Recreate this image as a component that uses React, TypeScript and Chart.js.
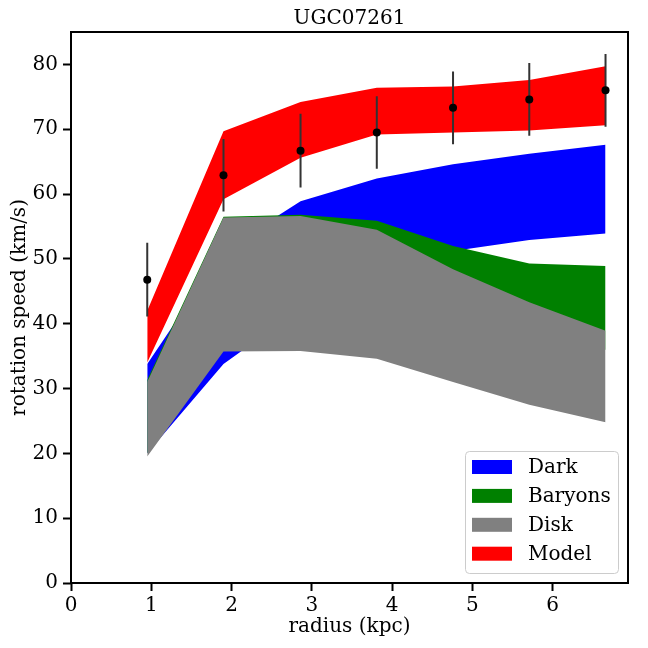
import React, { useEffect, useRef } from "react";
import { Chart, registerables } from "chart.js";

Chart.register(...registerables);

const FONT = "'DejaVu Serif', serif";

// Observed rotation curve
const radius = [0.95, 1.9, 2.86, 3.81, 4.76, 5.71, 6.66];
const vObs = [46.8, 62.9, 66.7, 69.5, 73.3, 74.6, 76.0];
const vErr = [5.7, 5.6, 5.7, 5.6, 5.6, 5.6, 5.6];

// Bands (lower / upper)
const modelLo = [34.0, 59.2, 65.6, 69.2, 69.5, 69.8, 70.6];
const modelHi = [42.0, 69.7, 74.2, 76.4, 76.6, 77.6, 79.7];
const diskLo = [19.5, 35.7, 35.8, 34.6, 31.0, 27.5, 24.8];
const diskHi = [31.0, 56.4, 56.6, 54.5, 48.4, 43.3, 38.9];
const baryonLo = [20.0, 36.0, 37.0, 37.0, 36.5, 36.0, 36.0];
const baryonHi = [31.3, 56.5, 56.8, 55.9, 52.0, 49.3, 48.9];
const darkLo = [20.0, 33.8, 42.3, 47.5, 51.2, 52.9, 53.9];
const darkHi = [33.8, 51.3, 58.9, 62.4, 64.6, 66.2, 67.6];

const legendLabels = ["Dark", "Baryons", "Disk", "Model"];
const legendColors = ["#0000ff", "#008000", "#808080", "#ff0000"];

const xTickValues = [0, 1, 2, 3, 4, 5, 6];
const yTickValues = [0, 10, 20, 30, 40, 50, 60, 70, 80];

const toXY = (ys: (number | null)[]) => ys.map((y, i) => ({ x: radius[i], y }));

const errData: { x: number; y: number | null }[] = [];
radius.forEach((r, i) => {
  errData.push({ x: r, y: vObs[i] - vErr[i] });
  errData.push({ x: r, y: vObs[i] + vErr[i] });
  errData.push({ x: r, y: null });
});

const edge = (data: any, fill: any, color: string) => ({
  data,
  fill,
  backgroundColor: color,
  borderColor: "rgba(0,0,0,0)",
  borderWidth: 1,
  pointRadius: 0,
  pointHoverRadius: 0,
});

const frameAndLegend = {
  id: "frameAndLegend",
  afterDatasetsDraw(chart: any) {
    const { ctx, chartArea } = chart;
    ctx.save();
    ctx.strokeStyle = "#000";
    ctx.lineWidth = 2;
    ctx.strokeRect(chartArea.left, chartArea.top, chartArea.right - chartArea.left, chartArea.bottom - chartArea.top);
    ctx.restore();
  },
  afterDraw(chart: any) {
    const { ctx, chartArea } = chart;
    const w = 153;
    const h = 122;
    const bx = chartArea.right - 10 - w;
    const by = chartArea.bottom - 10 - h;
    ctx.save();
    ctx.beginPath();
    ctx.roundRect(bx + 0.5, by + 0.5, w, h, 4);
    ctx.fillStyle = "rgba(255,255,255,0.8)";
    ctx.fill();
    ctx.strokeStyle = "#cccccc";
    ctx.lineWidth = 1;
    ctx.stroke();
    ctx.font = `20px ${FONT}`;
    ctx.textBaseline = "middle";
    ctx.textAlign = "left";
    legendLabels.forEach((lab, i) => {
      const cy = by + 16 + i * 28.9;
      ctx.fillStyle = legendColors[i];
      ctx.fillRect(bx + 7, cy - 7, 40, 14);
      ctx.fillStyle = "#000";
      ctx.fillText(lab, bx + 63, cy + 1);
    });
    ctx.restore();
  },
};

export default function App() {
  const ref = useRef<HTMLCanvasElement | null>(null);
  useEffect(() => {
    if (!ref.current) return;
    const chart = new Chart(ref.current, {
      type: "line",
      data: {
        datasets: [
          {
            data: toXY(vObs),
            showLine: false,
            pointRadius: 4,
            pointBackgroundColor: "#000",
            pointBorderWidth: 0,
            borderColor: "#000",
            fill: false,
          } as any,
          {
            data: errData,
            borderColor: "#333333",
            borderWidth: 2,
            pointRadius: 0,
            fill: false,
            spanGaps: false,
          } as any,
          edge(toXY(modelLo), false, legendColors[3]),
          edge(toXY(modelHi), 2, legendColors[3]),
          edge(toXY(diskLo), false, legendColors[2]),
          edge(toXY(diskHi), 4, legendColors[2]),
          edge(toXY(baryonLo), false, legendColors[1]),
          edge(toXY(baryonHi), 6, legendColors[1]),
          edge(toXY(darkLo), false, legendColors[0]),
          edge(toXY(darkHi), 8, legendColors[0]),
        ],
      },
      options: {
        animation: false,
        responsive: true,
        maintainAspectRatio: false,
        layout: { padding: { left: 0, right: 20, top: 0, bottom: 0 } },
        plugins: {
          legend: { display: false },
          tooltip: { enabled: false },
          title: {
            display: true,
            fullSize: false,
            text: "UGC07261",
            color: "#000",
            font: { family: FONT, size: 20, weight: "normal", lineHeight: 1.2 },
            padding: { top: 7, bottom: 1 },
          },
        },
        scales: {
          x: {
            type: "linear",
            min: 0,
            max: 6.94,
            afterFit: (s: any) => {
              s.height = 65;
            },
            afterBuildTicks: (s: any) => {
              s.ticks = xTickValues.map((v) => ({ value: v }));
            },
            ticks: {
              stepSize: 1,
              includeBounds: false,
              color: "#000",
              padding: 3,
              font: { family: FONT, size: 20 },
            },
            grid: {
              drawOnChartArea: false,
              drawTicks: true,
              tickLength: 8,
              tickWidth: 2,
              tickColor: "#000",
            },
            border: { display: false },
            title: {
              display: true,
              text: "radius (kpc)",
              color: "#000",
              font: { family: FONT, size: 20, lineHeight: 1.2 },
              padding: { top: 0, bottom: 9 },
            },
          },
          y: {
            type: "linear",
            min: 0,
            max: 85,
            afterFit: (s: any) => {
              s.width = 71;
            },
            afterBuildTicks: (s: any) => {
              s.ticks = yTickValues.map((v) => ({ value: v }));
            },
            ticks: {
              stepSize: 10,
              includeBounds: false,
              color: "#000",
              padding: 5,
              font: { family: FONT, size: 20 },
            },
            grid: {
              drawOnChartArea: false,
              drawTicks: true,
              tickLength: 8,
              tickWidth: 2,
              tickColor: "#000",
            },
            border: { display: false },
            title: {
              display: true,
              text: "rotation speed (km/s)",
              color: "#000",
              font: { family: FONT, size: 20, lineHeight: 1.2 },
              padding: { top: 8, bottom: 0 },
            },
          },
        },
      } as any,
      plugins: [frameAndLegend],
    });
    return () => chart.destroy();
  }, []);
  return (
    <div style={{ position: "absolute", left: 0, top: 0, width: 648, height: 648, background: "#fff" }}>
      <canvas ref={ref} />
    </div>
  );
}
